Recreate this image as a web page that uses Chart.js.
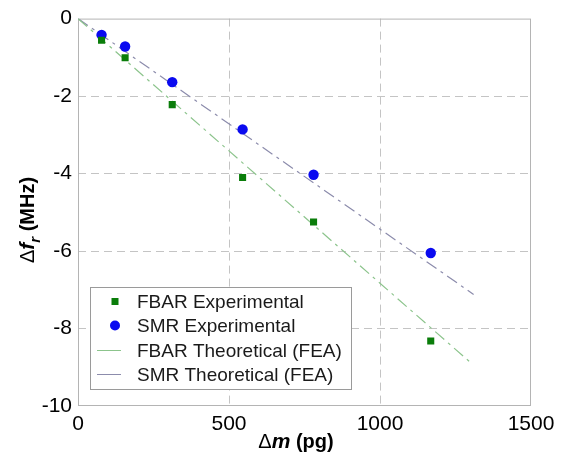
<!DOCTYPE html>
<html>
<head>
<meta charset="utf-8">
<script src="https://cdn.jsdelivr.net/npm/chart.js@4/dist/chart.umd.min.js"></script>
<style>
html,body{margin:0;padding:0;background:#fff;}
#wrap{width:570px;height:466px;position:relative;}
</style>
</head>
<body>
<div id="wrap"><canvas id="c" width="570" height="466"></canvas></div>
<script>
// ---- data ----
const massPg      = [78, 156, 312, 545, 780, 1168];
const fbarExp     = [-0.56, -1.01, -2.22, -4.10, -5.25, -8.32];
const smrExp      = [-0.42, -0.72, -1.64, -2.86, -4.03, -6.05];
const fbarTheoX   = [0, 1300];
const fbarTheoY   = [0, -8.88];
const smrTheoX    = [0, 1310];
const smrTheoY    = [0, -7.12];
const xTicks      = [0, 500, 1000, 1500];
const yTicks      = [0, -2, -4, -6, -8, -10];
const seriesNames = ['FBAR Experimental', 'SMR Experimental', 'FBAR Theoretical (FEA)', 'SMR Theoretical (FEA)'];

const pts = (xs, ys) => xs.map((x, i) => ({x: x, y: ys[i]}));

const FONT = "'Liberation Sans', Arial, Helvetica, sans-serif";
const GREEN = '#0a7d0a', BLUE = '#0a0af0', LGREEN = '#8cc48c', LGRAY = '#8c8cac';

const framePlugin = {
  id: 'frame',
  beforeDatasetsDraw(chart) {
    const {ctx, chartArea: a} = chart;
    ctx.save();
    ctx.strokeStyle = '#b4b4b4';
    ctx.lineWidth = 1;
    ctx.strokeRect(a.left + 0.5, a.top + 0.5, a.right - a.left - 1, a.bottom - a.top - 1);
    ctx.restore();
  },
  afterDraw(chart) {
    const {ctx, chartArea: a} = chart;
    ctx.save();
    // legend box
    const lx = 90, ly = 287, lw = 261, lh = 102;
    ctx.fillStyle = '#fff';
    ctx.fillRect(lx, ly, lw, lh);
    ctx.strokeStyle = '#9a9a9a';
    ctx.lineWidth = 1;
    ctx.strokeRect(lx + 0.5, ly + 0.5, lw, lh);
    const rows = [301.5, 325.5, 350.5, 374.5];
    const ds = chart.data.datasets;
    ctx.font = '19px ' + FONT;
    ctx.textBaseline = 'middle';
    ctx.textAlign = 'left';
    rows.forEach((ry, i) => {
      const d = ds[i];
      if (i === 0) {
        ctx.fillStyle = GREEN;
        ctx.fillRect(115 - 3.5, ry - 3.5, 7, 7);
      } else if (i === 1) {
        ctx.fillStyle = BLUE;
        ctx.beginPath(); ctx.arc(115, ry, 5, 0, Math.PI * 2); ctx.fill();
      } else {
        ctx.strokeStyle = d.borderColor;
        ctx.lineWidth = 1;
        ctx.beginPath(); ctx.moveTo(97, ry); ctx.lineTo(121, ry); ctx.stroke();
      }
      ctx.fillStyle = '#1a1a1a';
      ctx.fillText(d.label, 137, ry + 1);
    });

    // x axis title: Δm (pg)
    const xParts = [
      {t: 'Δ', f: '20px ' + FONT},
      {t: 'm', f: 'italic bold 21px ' + FONT},
      {t: ' (pg)', f: 'bold 20px ' + FONT}
    ];
    let tw = 0;
    xParts.forEach(p => { ctx.font = p.f; p.w = ctx.measureText(p.t).width; tw += p.w; });
    let x0 = 296 - tw / 2;
    ctx.fillStyle = '#000';
    ctx.textBaseline = 'alphabetic';
    xParts.forEach(p => { ctx.font = p.f; ctx.fillText(p.t, x0, 448); x0 += p.w; });

    // y axis title: Δf_r (MHz), rotated
    const yParts = [
      {t: 'Δ', f: '20px ' + FONT, dy: 0},
      {t: 'f', f: 'italic bold 21px ' + FONT, dy: 0},
      {t: 'r', f: 'italic bold 15px ' + FONT, dy: 6},
      {t: ' (MHz)', f: 'bold 20px ' + FONT, dy: 0}
    ];
    tw = 0;
    yParts.forEach(p => { ctx.font = p.f; p.w = ctx.measureText(p.t).width; tw += p.w; });
    ctx.translate(34, 220);
    ctx.rotate(-Math.PI / 2);
    x0 = -tw / 2;
    yParts.forEach(p => { ctx.font = p.f; ctx.fillText(p.t, x0, p.dy); x0 += p.w; });
    ctx.restore();
  }
};

const edgeHidden = (edges) => (c) => edges.includes(c.tick && c.tick.value) ? 'rgba(0,0,0,0)' : '#c4c4c4';

new Chart(document.getElementById('c'), {
  type: 'scatter',
  data: {
    datasets: [
      {label: seriesNames[0], data: pts(massPg, fbarExp), pointStyle: 'rect', pointRadius: 5,
       backgroundColor: GREEN, borderColor: GREEN, borderWidth: 0},
      {label: seriesNames[1], data: pts(massPg, smrExp), pointStyle: 'circle', pointRadius: 5.2,
       backgroundColor: BLUE, borderColor: BLUE, borderWidth: 0},
      {label: seriesNames[2], data: pts(fbarTheoX, fbarTheoY), showLine: true, pointRadius: 0,
       borderColor: LGREEN, borderWidth: 1.2, borderDash: [12, 5, 3, 5], fill: false},
      {label: seriesNames[3], data: pts(smrTheoX, smrTheoY), showLine: true, pointRadius: 0,
       borderColor: LGRAY, borderWidth: 1.2, borderDash: [12, 5, 3, 5], fill: false}
    ]
  },
  options: {
    responsive: false,
    animation: false,
    events: [],
    layout: {padding: {left: 0, right: 39, top: 16, bottom: 0}},
    plugins: {legend: {display: false}, tooltip: {enabled: false}},
    scales: {
      x: {
        type: 'linear', min: 0, max: 1500,
        afterFit: s => { s.height = 60; },
        afterBuildTicks: s => { s.ticks = xTicks.map(v => ({value: v})); },
        ticks: {color: '#000', font: {family: FONT, size: 21}, padding: 6, maxRotation: 0,
                callback: v => String(v)},
        grid: {color: edgeHidden([0, 1500]), lineWidth: 1, drawTicks: false},
        border: {display: false, dash: [8, 5]},
        title: {display: false}
      },
      y: {
        type: 'linear', min: -10, max: 0,
        afterFit: s => { s.width = 78; },
        afterBuildTicks: s => { s.ticks = yTicks.map(v => ({value: v})); },
        ticks: {color: '#000', font: {family: FONT, size: 21}, padding: 6,
                callback: v => String(v)},
        grid: {color: edgeHidden([0, -10]), lineWidth: 1, drawTicks: false},
        border: {display: false, dash: [8, 5]},
        title: {display: false}
      }
    }
  },
  plugins: [framePlugin]
});
</script>
</body>
</html>
